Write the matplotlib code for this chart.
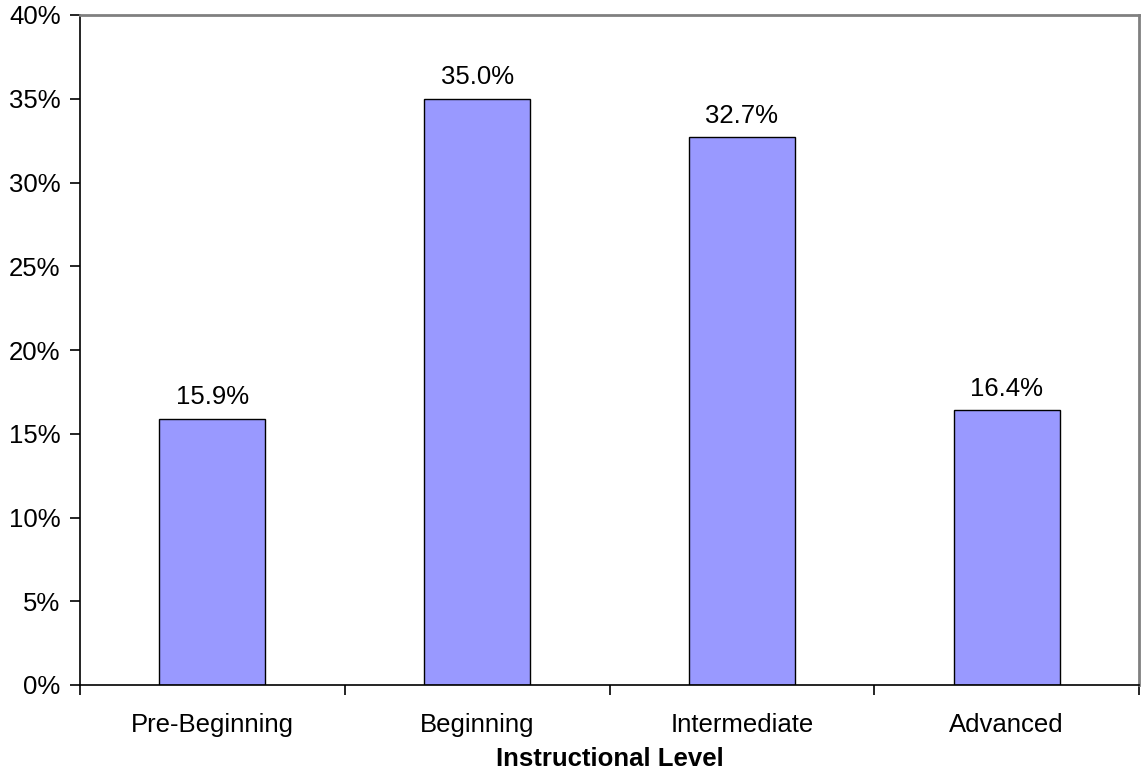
import matplotlib
matplotlib.use("Agg")
import matplotlib.pyplot as plt
from matplotlib.ticker import FixedLocator, FuncFormatter

plt.rcParams['font.family'] = ['Liberation Sans', 'DejaVu Sans']

categories = ["Pre-Beginning", "Beginning", "Intermediate", "Advanced"]
values = [15.9, 35.0, 32.7, 16.4]
y_ticks = [0, 5, 10, 15, 20, 25, 30, 35, 40]

FS = 18.5

fig = plt.figure(figsize=(11.41, 7.77), dpi=100)
ax = fig.add_axes([80 / 1141, 1 - 685 / 777, 1059 / 1141, 670 / 777])

x = list(range(len(categories)))
ax.bar(x, values, width=0.4, color="#9999FF", edgecolor="black", linewidth=1.0, zorder=2)

for xi, v in zip(x, values):
    ax.annotate(f"{v:.1f}%", (xi, v), xytext=(0, 10.5), textcoords="offset points",
                ha="center", va="baseline", fontsize=FS)

ax.set_xlim(-0.5, len(categories) - 0.5)
ax.set_ylim(0, 40)
ax.set_yticks(y_ticks)
ax.yaxis.set_major_formatter(FuncFormatter(lambda v, p: f"{v:.0f}%"))
ax.tick_params(axis="y", direction="out", length=7, width=1.2, labelsize=FS, pad=7)

ax.set_xticks(x)
ax.set_xticklabels(categories)
ax.tick_params(axis="x", which="major", length=0, labelsize=FS, pad=20.5)
ax.xaxis.set_minor_locator(FixedLocator([-0.5 + i for i in range(len(categories) + 1)]))
ax.tick_params(axis="x", which="minor", direction="out", length=7, width=1.2)

ax.set_xlabel("Instructional Level", fontsize=FS, fontweight="bold", labelpad=7)

for side in ("left", "bottom"):
    ax.spines[side].set_color("black")
    ax.spines[side].set_linewidth(1.2)
for side in ("top", "right"):
    ax.spines[side].set_color("#808080")
    ax.spines[side].set_linewidth(2)

fig.savefig("out.png", dpi=100)
